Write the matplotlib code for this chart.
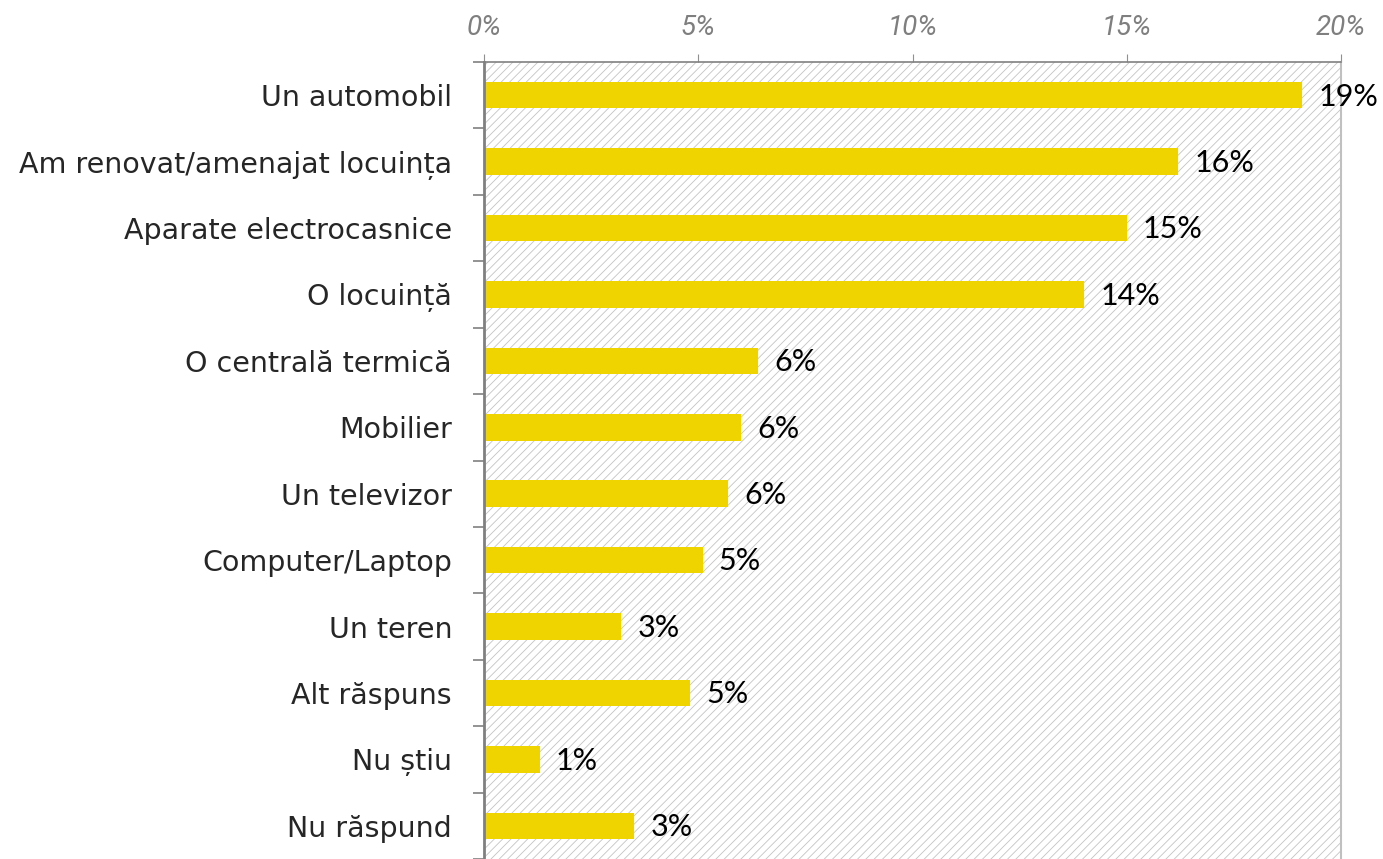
import matplotlib.pyplot as plt
from matplotlib.patches import Rectangle
import numpy as np

categories = ['Un automobil', 'Am renovat/amenajat locuința', 'Aparate electrocasnice',
              'O locuință', 'O centrală termică', 'Mobilier', 'Un televizor',
              'Computer/Laptop', 'Un teren', 'Alt răspuns', 'Nu știu', 'Nu răspund']
values = [19.1, 16.2, 15.0, 14.0, 6.4, 6.0, 5.7, 5.1, 3.2, 4.8, 1.3, 3.5]
value_labels = ['19%', '16%', '15%', '14%', '6%', '6%', '6%', '5%', '3%', '5%', '1%', '3%']
xticks = [0, 5, 10, 15, 20]

plt.rcParams['hatch.linewidth'] = 0.6
plt.rcParams['hatch.color'] = '#c4c4c4'

fig = plt.figure(figsize=(13.83, 8.59), dpi=100)
ax = fig.add_axes([484 / 1383, 0.0, (1341 - 484) / 1383, 1 - 62 / 859])

y = np.arange(len(categories))
ax.add_patch(Rectangle((0, 0), 1, 1, transform=ax.transAxes, facecolor='white',
                       edgecolor='#c4c4c4', hatch='////', linewidth=0, zorder=0))
ax.barh(y, values, height=0.4, color='#f0d400', zorder=2)

for yi, v, lab in zip(y, values, value_labels):
    ax.text(v + 0.38, yi + 0.02, lab, va='center', ha='left', fontsize=22,
            family='Lato', color='black', zorder=3)

ax.set_xlim(0, 20)
ax.set_ylim(len(categories) - 0.5, -0.5)
ax.xaxis.tick_top()
ax.set_xticks(xticks)
ax.set_xticklabels([f'{t}%' for t in xticks], fontsize=20, style='italic',
                   family='Roboto', color='#7f7f7f')
ax.tick_params(axis='x', length=6, width=0.8, color='#909090', pad=9)

ax.set_yticks(y)
ax.set_yticklabels(categories, fontsize=20.5, color='#262626', family='DejaVu Sans')
ax.set_yticks(np.arange(len(categories) + 1) - 0.5, minor=True)
ax.tick_params(axis='y', which='major', length=0, pad=23)
ax.tick_params(axis='y', which='minor', length=8, width=1.2, color='#808080')

ax.spines['left'].set_color('#808080')
ax.spines['left'].set_linewidth(2)
ax.spines['top'].set_color('#808080')
ax.spines['top'].set_linestyle((0, (1, 1)))
ax.spines['top'].set_linewidth(1.2)
ax.spines['right'].set_color('#c0c0c0')
ax.spines['right'].set_linewidth(1.5)
ax.spines['bottom'].set_visible(False)

fig.savefig('out.png', dpi=100)
